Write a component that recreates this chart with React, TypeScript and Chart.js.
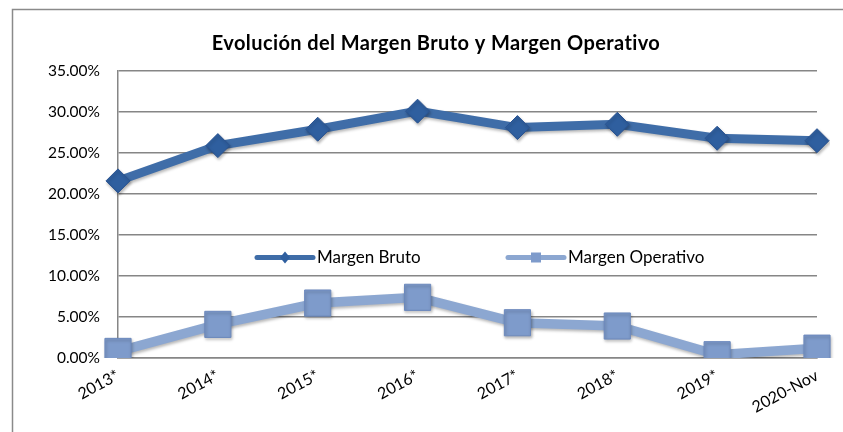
import { useEffect, useRef } from 'react';
import { Chart, registerables } from 'chart.js';

Chart.register(...registerables);

const titleText = 'Evolución del Margen Bruto y Margen Operativo';
const categories = ['2013*', '2014*', '2015*', '2016*', '2017*', '2018*', '2019*', '2020-Nov'];
const margenBruto = [21.6, 25.9, 27.9, 30.1, 28.1, 28.5, 26.8, 26.5];
const margenOperativo = [0.8, 4.1, 6.7, 7.4, 4.3, 3.9, 0.4, 1.2];
const seriesLabels = ['Margen Bruto', 'Margen Operativo'];
const yMin = 0;
const yMax = 35;
const yStep = 5;

const FONT = 'Lato, "Open Sans", sans-serif';

const brutoLine = '#3F6DA8';
const brutoPoint = '#2F5F9F';
const brutoPointBorder = '#2A5391';
const operLine = '#8CA7D1';
const operPoint = '#7E9BCB';
const operPointBorder = '#6C89BD';

const backgroundPlugin = {
  id: 'bgBorder',
  beforeDraw(chart: any) {
    const ctx = chart.ctx;
    ctx.save();
    ctx.fillStyle = '#ffffff';
    ctx.fillRect(0, 0, chart.width, chart.height);
    ctx.strokeStyle = '#8a8a8a';
    ctx.lineWidth = 1.5;
    ctx.strokeRect(12.5, 9.5, chart.width + 20, chart.height + 20);
    ctx.restore();
  },
};

const titlePlugin = {
  id: 'customTitle',
  afterDraw(chart: any) {
    const ctx = chart.ctx;
    ctx.save();
    ctx.fillStyle = '#000000';
    ctx.font = `bold 20px ${FONT}`;
    try {
      (ctx as any).letterSpacing = '0.4px';
    } catch (e) {}
    ctx.textAlign = 'center';
    ctx.textBaseline = 'middle';
    ctx.fillText(titleText, 436, 44);
    ctx.restore();
  },
};

const shadowPlugin = {
  id: 'markerShadow',
  beforeDatasetDraw(chart: any) {
    const ctx = chart.ctx;
    ctx.save();
    ctx.shadowColor = 'rgba(0,0,0,0.28)';
    ctx.shadowBlur = 3;
    ctx.shadowOffsetX = 1;
    ctx.shadowOffsetY = 2;
  },
  afterDatasetDraw(chart: any) {
    chart.ctx.restore();
  },
};

const innerLegendPlugin = {
  id: 'innerLegend',
  afterDraw(chart: any) {
    const ctx = chart.ctx;
    const y = 257.5;
    const items = [
      { x0: 257, x1: 313, tx: 317 },
      { x0: 508, x1: 564, tx: 568 },
    ];
    ctx.save();
    items.forEach((it, i) => {
      const ds = chart.data.datasets[i];
      ctx.strokeStyle = ds.borderColor;
      ctx.lineWidth = 5;
      ctx.lineCap = 'round';
      ctx.beginPath();
      ctx.moveTo(it.x0, y);
      ctx.lineTo(it.x1, y);
      ctx.stroke();
      const cx = (it.x0 + it.x1) / 2;
      ctx.fillStyle = ds.pointBackgroundColor;
      ctx.beginPath();
      if (i === 0) {
        ctx.moveTo(cx, y - 6);
        ctx.lineTo(cx + 5, y);
        ctx.lineTo(cx, y + 6);
        ctx.lineTo(cx - 5, y);
        ctx.closePath();
      } else {
        ctx.rect(cx - 5, y - 5, 10, 10);
      }
      ctx.fill();
      ctx.fillStyle = '#000000';
      ctx.font = `17px ${FONT}`;
      ctx.textAlign = 'left';
      ctx.textBaseline = 'middle';
      ctx.fillText(seriesLabels[i], it.tx, y);
    });
    ctx.restore();
  },
};

export default function App() {
  const canvasRef = useRef<HTMLCanvasElement | null>(null);

  useEffect(() => {
    if (!canvasRef.current) return;
    const chart = new Chart(canvasRef.current, {
      type: 'line',
      data: {
        labels: categories,
        datasets: [
          {
            label: seriesLabels[0],
            data: margenBruto,
            borderColor: brutoLine,
            backgroundColor: brutoLine,
            borderWidth: 9,
            pointStyle: 'rectRot',
            pointRadius: 12,
            pointBackgroundColor: brutoPoint,
            pointBorderColor: brutoPointBorder,
            pointBorderWidth: 1,
            tension: 0,
          },
          {
            label: seriesLabels[1],
            data: margenOperativo,
            borderColor: operLine,
            backgroundColor: operLine,
            borderWidth: 9.5,
            pointStyle: 'rect',
            pointRadius: 18.5,
            pointBackgroundColor: operPoint,
            pointBorderColor: operPointBorder,
            pointBorderWidth: 1,
            tension: 0,
          },
        ],
      },
      options: {
        animation: false,
        responsive: true,
        maintainAspectRatio: false,
        layout: { padding: { left: 0, right: 26, top: 71, bottom: 0 } },
        plugins: {
          legend: { display: false },
          tooltip: { enabled: false },
          title: { display: false },
        },
        scales: {
          x: {
            offset: false,
            grid: { display: false, drawTicks: false },
            border: { display: true, color: '#868686', width: 1.5 },
            ticks: {
              color: '#000000',
              font: { family: FONT, size: 16 },
              maxRotation: 28,
              minRotation: 28,
              padding: 8,
              autoSkip: false,
            },
            afterFit(scale: any) {
              scale.height = 74;
            },
          },
          y: {
            min: yMin,
            max: yMax,
            grid: { color: '#868686', lineWidth: 1.5, drawTicks: false },
            border: { display: true, color: '#868686', width: 1.5 },
            ticks: {
              stepSize: yStep,
              color: '#000000',
              font: { family: FONT, size: 15.5 },
              padding: 18,
              callback: (v: any) => Number(v).toFixed(2) + '%',
            },
            afterFit(scale: any) {
              scale.width = 118;
            },
          },
        },
      },
      plugins: [backgroundPlugin, shadowPlugin, innerLegendPlugin, titlePlugin],
    });
    return () => chart.destroy();
  }, []);

  return (
    <div style={{ position: 'fixed', left: 0, top: 0, width: 843, height: 432, background: '#fff' }}>
      <canvas ref={canvasRef} />
    </div>
  );
}
